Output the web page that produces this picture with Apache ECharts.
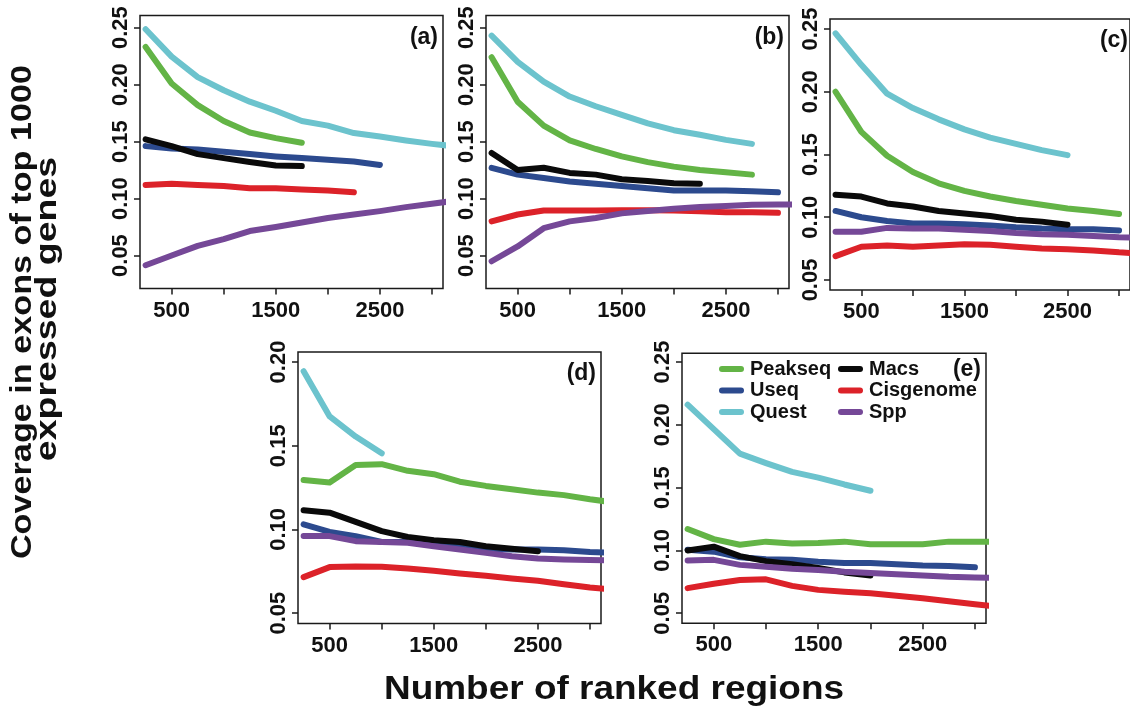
<!DOCTYPE html>
<html>
<head>
<meta charset="utf-8">
<script src="https://cdn.jsdelivr.net/npm/echarts@6/dist/echarts.min.js"></script>
<style>
html,body{margin:0;padding:0;background:#fff;}
#chart{width:1130px;height:719px;}
</style>
</head>
<body>
<div id="chart"></div>
<script>
// ---------- data ----------
const xs = [250, 500, 750, 1000, 1250, 1500, 1750, 2000, 2250, 2500, 2750, 3000, 3250];
const methods = ['Peakseq', 'Useq', 'Quest', 'Macs', 'Cisgenome', 'Spp'];
const panelLabels = ['(a)', '(b)', '(c)', '(d)', '(e)'];
const xTicks = [500, 1000, 1500, 2000, 2500, 3000];
const xTickLabels = [500, 1500, 2500];
const yTicks = [0.05, 0.10, 0.15, 0.20, 0.25];
const yTicksD = [0.05, 0.10, 0.15, 0.20];
const xTitle = 'Number of ranked regions';
const yTitle1 = 'Coverage in exons of top 1000';
const yTitle2 = 'expressed genes';

// panel (a)
const a_peakseq   = [0.233, 0.201, 0.182, 0.168, 0.158, 0.153, 0.149];
const a_useq      = [0.146, 0.144, 0.143, 0.141, 0.139, 0.137, 0.1355, 0.134, 0.1325, 0.1295];
const a_quest     = [0.2485, 0.2245, 0.2065, 0.195, 0.185, 0.177, 0.168, 0.164, 0.1575, 0.1545, 0.151, 0.148, 0.1455];
const a_macs      = [0.152, 0.146, 0.139, 0.1355, 0.132, 0.129, 0.1285];
const a_cisgenome = [0.112, 0.113, 0.112, 0.111, 0.109, 0.109, 0.108, 0.107, 0.1055];
const a_spp       = [0.0415, 0.050, 0.0585, 0.0645, 0.0715, 0.075, 0.079, 0.083, 0.086, 0.089, 0.0925, 0.0955, 0.0985];
// panel (b)
const b_peakseq   = [0.224, 0.185, 0.164, 0.151, 0.1435, 0.137, 0.132, 0.128, 0.125, 0.123, 0.121];
const b_useq      = [0.127, 0.121, 0.118, 0.115, 0.113, 0.111, 0.109, 0.107, 0.107, 0.107, 0.1065, 0.1055];
const b_quest     = [0.243, 0.220, 0.2025, 0.1895, 0.181, 0.1735, 0.166, 0.160, 0.156, 0.1515, 0.148];
const b_macs      = [0.140, 0.125, 0.127, 0.1225, 0.121, 0.117, 0.1155, 0.1135, 0.113];
const b_cisgenome = [0.080, 0.086, 0.0895, 0.0895, 0.0895, 0.0897, 0.0897, 0.0895, 0.0888, 0.088, 0.088, 0.0875];
const b_spp       = [0.045, 0.058, 0.074, 0.080, 0.083, 0.087, 0.089, 0.091, 0.0925, 0.0935, 0.0945, 0.0947, 0.095];
// panel (c)
const c_peakseq   = [0.200, 0.168, 0.149, 0.136, 0.127, 0.121, 0.1165, 0.113, 0.110, 0.107, 0.105, 0.1025];
const c_useq      = [0.105, 0.100, 0.097, 0.095, 0.095, 0.0945, 0.0935, 0.092, 0.091, 0.0905, 0.0905, 0.0895];
const c_quest     = [0.2465, 0.2215, 0.1985, 0.187, 0.178, 0.170, 0.1635, 0.1585, 0.1535, 0.1495];
const c_macs      = [0.118, 0.1165, 0.111, 0.1085, 0.105, 0.103, 0.101, 0.098, 0.0965, 0.094];
const c_cisgenome = [0.069, 0.0765, 0.0775, 0.0765, 0.0775, 0.0785, 0.078, 0.0765, 0.075, 0.0745, 0.0735, 0.072, 0.071];
const c_spp       = [0.0885, 0.0885, 0.0915, 0.091, 0.091, 0.090, 0.089, 0.0875, 0.0865, 0.086, 0.085, 0.084, 0.0835];
// panel (d)
const d_peakseq   = [0.1295, 0.128, 0.1385, 0.139, 0.135, 0.133, 0.1285, 0.126, 0.124, 0.122, 0.1205, 0.118, 0.116];
const d_useq      = [0.103, 0.0985, 0.096, 0.0925, 0.0925, 0.091, 0.0895, 0.0885, 0.088, 0.088, 0.0875, 0.0865, 0.086];
const d_quest     = [0.1945, 0.1675, 0.1555, 0.1455];
const d_macs      = [0.1115, 0.110, 0.1045, 0.099, 0.0955, 0.0935, 0.0925, 0.090, 0.0885, 0.087];
const d_cisgenome = [0.0715, 0.0775, 0.0778, 0.0777, 0.0767, 0.0753, 0.0737, 0.0723, 0.0707, 0.0693, 0.0672, 0.0653, 0.064];
const d_spp       = [0.096, 0.096, 0.093, 0.0925, 0.092, 0.090, 0.088, 0.086, 0.084, 0.0826, 0.082, 0.0817, 0.0815];
// panel (e)
const e_peakseq   = [0.117, 0.109, 0.1045, 0.107, 0.1055, 0.106, 0.107, 0.105, 0.105, 0.105, 0.107, 0.107, 0.107];
const e_useq      = [0.1005, 0.099, 0.0945, 0.093, 0.0925, 0.091, 0.090, 0.090, 0.089, 0.088, 0.0877, 0.0866];
const e_quest     = [0.216, 0.1965, 0.177, 0.1695, 0.1625, 0.158, 0.1525, 0.1475];
const e_macs      = [0.100, 0.103, 0.0955, 0.0915, 0.089, 0.086, 0.0825, 0.080];
const e_cisgenome = [0.070, 0.0735, 0.0765, 0.077, 0.0718, 0.0686, 0.0672, 0.066, 0.064, 0.062, 0.0595, 0.0572, 0.055];
const e_spp       = [0.092, 0.0925, 0.0885, 0.087, 0.0855, 0.0845, 0.083, 0.082, 0.081, 0.080, 0.079, 0.0785, 0.078];

const panelData = [
  [a_peakseq, a_useq, a_quest, a_macs, a_cisgenome, a_spp],
  [b_peakseq, b_useq, b_quest, b_macs, b_cisgenome, b_spp],
  [c_peakseq, c_useq, c_quest, c_macs, c_cisgenome, c_spp],
  [d_peakseq, d_useq, d_quest, d_macs, d_cisgenome, d_spp],
  [e_peakseq, e_useq, e_quest, e_macs, e_cisgenome, e_spp]
];

// ---------- styling / layout ----------
const colors = ['#63b446', '#2c4a8e', '#6cc3cd', '#0a0a0a', '#dc2229', '#754897'];
const FONT = '"Liberation Sans", Arial, Helvetica, sans-serif';
const INK = '#111';
const boxes = [
  {left: 140, top: 15.5, width: 303, height: 273, ymin: 0.0211, ymax: 0.2606, ticks: yTicks},
  {left: 486, top: 15.5, width: 303, height: 273, ymin: 0.0211, ymax: 0.2606, ticks: yTicks},
  {left: 830, top: 19, width: 303, height: 271, ymin: 0.042, ymax: 0.258, ticks: yTicks},
  {left: 298, top: 352, width: 303, height: 271.5, ymin: 0.0438, ymax: 0.206, ticks: yTicksD},
  {left: 682, top: 353.3, width: 304, height: 270, ymin: 0.042, ymax: 0.2569, ticks: yTicks}
];
const XMIN = 196, XMAX = 3106;

const grids = [], xAxes = [], yAxes = [], series = [], graphics = [];
boxes.forEach((b, i) => {
  grids.push({left: b.left, top: b.top, width: b.width, height: b.height, show: true,
    borderColor: '#1a1a1a', borderWidth: 1.5, backgroundColor: 'transparent'});
  xAxes.push({type: 'value', gridIndex: i, min: XMIN, max: XMAX,
    axisLine: {show: false}, splitLine: {show: false},
    axisTick: {show: true, length: 6, lineStyle: {color: '#1a1a1a', width: 1.5}, customValues: xTicks},
    axisLabel: {customValues: xTickLabels, fontSize: 22, fontWeight: 'bold', fontFamily: FONT, color: INK, margin: 11,
      formatter: v => String(v)}
  });
  yAxes.push({type: 'value', gridIndex: i, min: b.ymin, max: b.ymax,
    axisLine: {show: false}, splitLine: {show: false},
    axisTick: {show: true, length: 6, lineStyle: {color: '#1a1a1a', width: 1.5}, customValues: b.ticks},
    axisLabel: {customValues: b.ticks, rotate: 90, fontSize: 22, fontWeight: 'bold', fontFamily: FONT, color: INK, margin: 8,
      formatter: v => v.toFixed(2)}
  });
  methods.forEach((m, k) => {
    const ys = panelData[i][k];
    series.push({
      type: 'line', name: m, xAxisIndex: i, yAxisIndex: i,
      data: ys.map((v, j) => [xs[j], v]),
      showSymbol: false, symbol: 'none', clip: true, silent: true,
      color: colors[k],
      lineStyle: {width: 6, color: colors[k], cap: 'round', join: 'round'},
      z: 2 + k
    });
  });
  graphics.push({type: 'text', x: b.left + b.width - 5, y: b.top + (i === 4 ? 16 : 22),
    style: {text: panelLabels[i], fontSize: 23, fontWeight: 'bold', fontFamily: FONT, fill: INK,
      align: 'right', verticalAlign: 'middle'}});
});

graphics.push({type: 'text', x: 23, y: 312, rotation: Math.PI / 2, scaleX: 1.14,
  style: {text: yTitle1, fontSize: 30, fontWeight: 'bold', fontFamily: FONT, fill: INK, align: 'center', verticalAlign: 'middle'}});
graphics.push({type: 'text', x: 48, y: 309, rotation: Math.PI / 2, scaleX: 1.25,
  style: {text: yTitle2, fontSize: 30, fontWeight: 'bold', fontFamily: FONT, fill: INK, align: 'center', verticalAlign: 'middle'}});
graphics.push({type: 'text', x: 614, y: 690, scaleX: 1.12,
  style: {text: xTitle, fontSize: 33, fontWeight: 'bold', fontFamily: FONT, fill: INK, align: 'center', verticalAlign: 'middle'}});

const pill = 'path://M3,0L22,0A3,3,0,0,1,22,6L3,6A3,3,0,0,1,3,0Z';
const legendCommon = {orient: 'vertical', top: 359, itemWidth: 25, itemHeight: 7, itemGap: 1.5,
  icon: pill, selectedMode: false, padding: 0,
  textStyle: {fontSize: 20, fontWeight: 'bold', fontFamily: FONT, color: INK, padding: [0, 0, 0, 1]}};

const option = {
  animation: false,
  backgroundColor: '#fff',
  grid: grids,
  xAxis: xAxes,
  yAxis: yAxes,
  legend: [
    Object.assign({}, legendCommon, {left: 719, data: ['Peakseq', 'Useq', 'Quest']}),
    Object.assign({}, legendCommon, {left: 838, data: ['Macs', 'Cisgenome', 'Spp']})
  ],
  series: series,
  graphic: graphics
};

const chart = echarts.init(document.getElementById('chart'), null, {renderer: 'canvas'});
chart.setOption(option);
</script>
</body>
</html>
